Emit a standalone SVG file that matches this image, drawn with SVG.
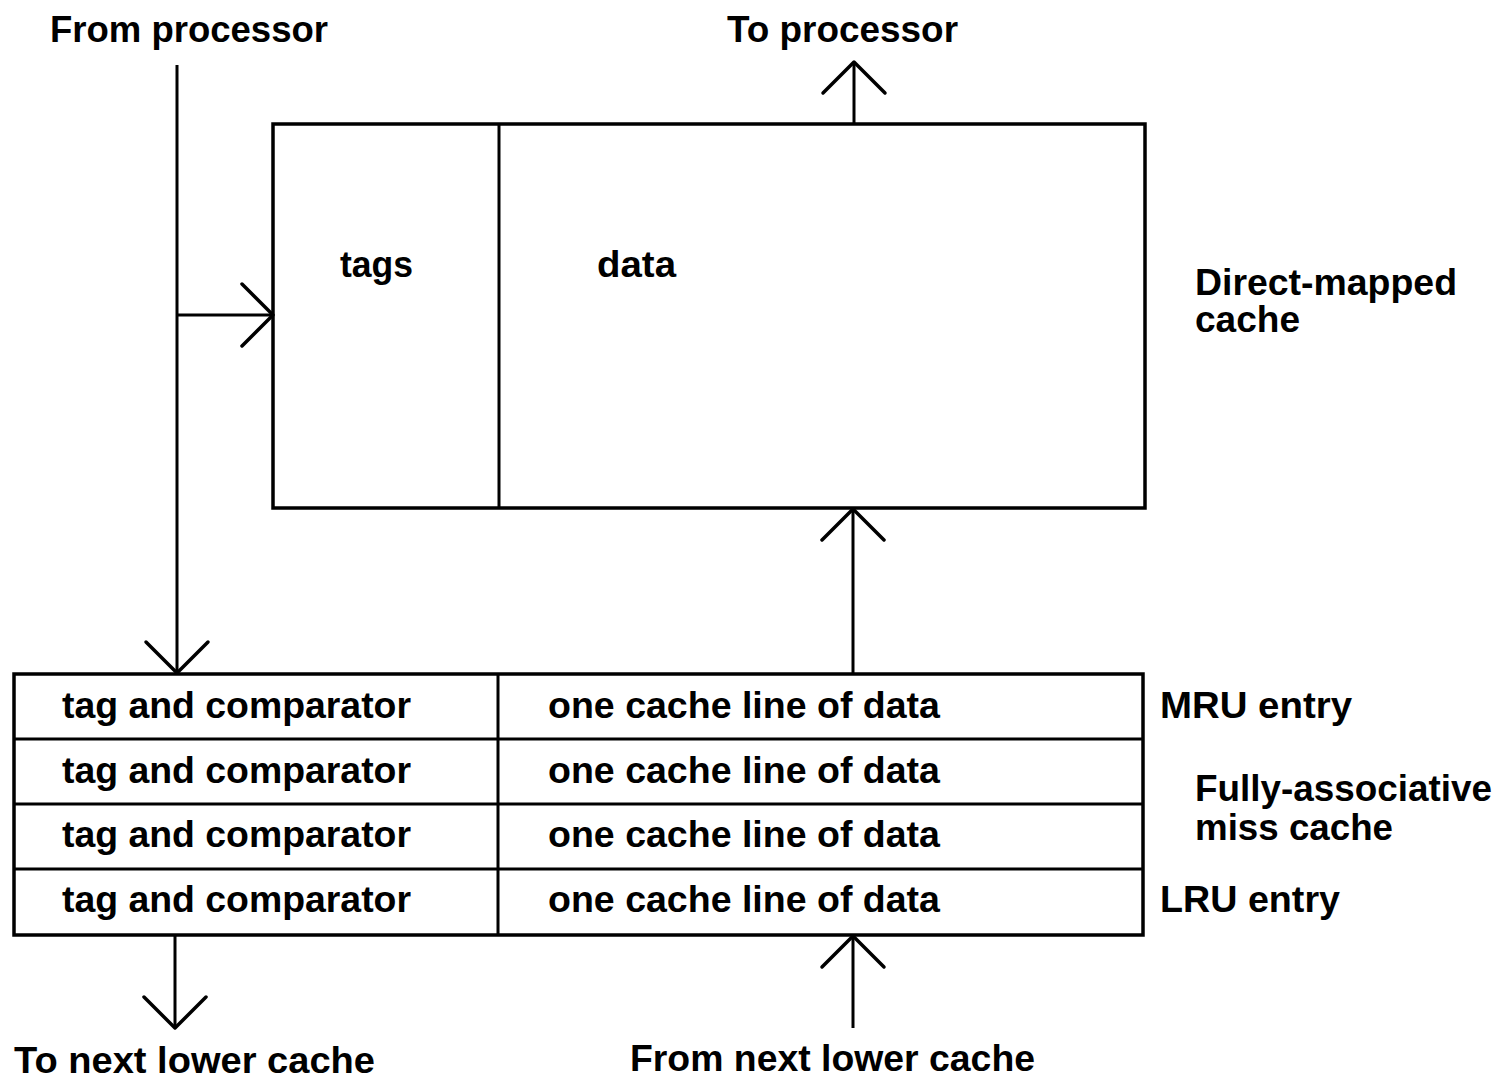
<svg xmlns="http://www.w3.org/2000/svg" width="1502" height="1079" viewBox="0 0 1502 1079">
  <style>
    .box { fill: none; stroke: #000; stroke-width: 3.5; }
    .div { stroke: #000; stroke-width: 3; }
    .wire { fill: none; stroke: #000; stroke-width: 3; }
    .t { font-family: "Liberation Sans", Arial, sans-serif; font-weight: bold; font-size: 37px; fill: #000; }
  </style>
  <defs>
    <marker id="arr" markerUnits="userSpaceOnUse" markerWidth="70" markerHeight="70" refX="32" refY="32" orient="auto" overflow="visible">
      <path d="M1,1 L32,32 L1,63" fill="none" stroke="#000" stroke-width="3.5" stroke-linecap="round" stroke-linejoin="round"/>
    </marker>
  </defs>
  <rect x="0" y="0" width="1502" height="1079" fill="#fff"/>

  <g id="direct-mapped-cache">
    <rect class="box" x="273" y="124" width="872" height="384"/>
    <line class="div" x1="499" y1="124" x2="499" y2="508"/>
    <text class="t" x="340" y="277" textLength="73" lengthAdjust="spacingAndGlyphs">tags</text>
    <text class="t" x="597" y="277" textLength="79" lengthAdjust="spacingAndGlyphs">data</text>
  </g>

  <g id="miss-cache">
    <rect class="box" x="14" y="674" width="1129" height="261"/>
    <line class="div" x1="14" y1="739" x2="1143" y2="739"/>
    <line class="div" x1="14" y1="804" x2="1143" y2="804"/>
    <line class="div" x1="14" y1="869" x2="1143" y2="869"/>
    <line class="div" x1="498" y1="674" x2="498" y2="935"/>
    <text class="t" x="62" y="718" textLength="349" lengthAdjust="spacingAndGlyphs">tag and comparator</text>
    <text class="t" x="62" y="783" textLength="349" lengthAdjust="spacingAndGlyphs">tag and comparator</text>
    <text class="t" x="62" y="847" textLength="349" lengthAdjust="spacingAndGlyphs">tag and comparator</text>
    <text class="t" x="62" y="912" textLength="349" lengthAdjust="spacingAndGlyphs">tag and comparator</text>
    <text class="t" x="548" y="718" textLength="392" lengthAdjust="spacingAndGlyphs">one cache line of data</text>
    <text class="t" x="548" y="783" textLength="392" lengthAdjust="spacingAndGlyphs">one cache line of data</text>
    <text class="t" x="548" y="847" textLength="392" lengthAdjust="spacingAndGlyphs">one cache line of data</text>
    <text class="t" x="548" y="912" textLength="392" lengthAdjust="spacingAndGlyphs">one cache line of data</text>
  </g>

  <g id="labels">
    <text class="t" x="50" y="42" textLength="278" lengthAdjust="spacingAndGlyphs">From processor</text>
    <text class="t" x="727" y="42" textLength="231" lengthAdjust="spacingAndGlyphs">To processor</text>
    <text class="t" x="1195" y="295" textLength="262" lengthAdjust="spacingAndGlyphs">Direct-mapped</text>
    <text class="t" x="1195" y="332" textLength="105" lengthAdjust="spacingAndGlyphs">cache</text>
    <text class="t" x="1160" y="718" textLength="192" lengthAdjust="spacingAndGlyphs">MRU entry</text>
    <text class="t" x="1195" y="801" textLength="297" lengthAdjust="spacingAndGlyphs">Fully-associative</text>
    <text class="t" x="1195" y="840" textLength="198" lengthAdjust="spacingAndGlyphs">miss cache</text>
    <text class="t" x="1160" y="912" textLength="180" lengthAdjust="spacingAndGlyphs">LRU entry</text>
    <text class="t" x="14" y="1073" textLength="361" lengthAdjust="spacingAndGlyphs">To next lower cache</text>
    <text class="t" x="630" y="1071" textLength="405" lengthAdjust="spacingAndGlyphs">From next lower cache</text>
  </g>

  <g id="connectors">
    <line class="wire" x1="177" y1="65" x2="177" y2="673" marker-end="url(#arr)"/>
    <line class="wire" x1="177" y1="315" x2="273" y2="315" marker-end="url(#arr)"/>
    <line class="wire" x1="854" y1="124" x2="854" y2="62" marker-end="url(#arr)"/>
    <line class="wire" x1="853" y1="674" x2="853" y2="509" marker-end="url(#arr)"/>
    <line class="wire" x1="175" y1="935" x2="175" y2="1028" marker-end="url(#arr)"/>
    <line class="wire" x1="853" y1="1028" x2="853" y2="936" marker-end="url(#arr)"/>
  </g>
</svg>
